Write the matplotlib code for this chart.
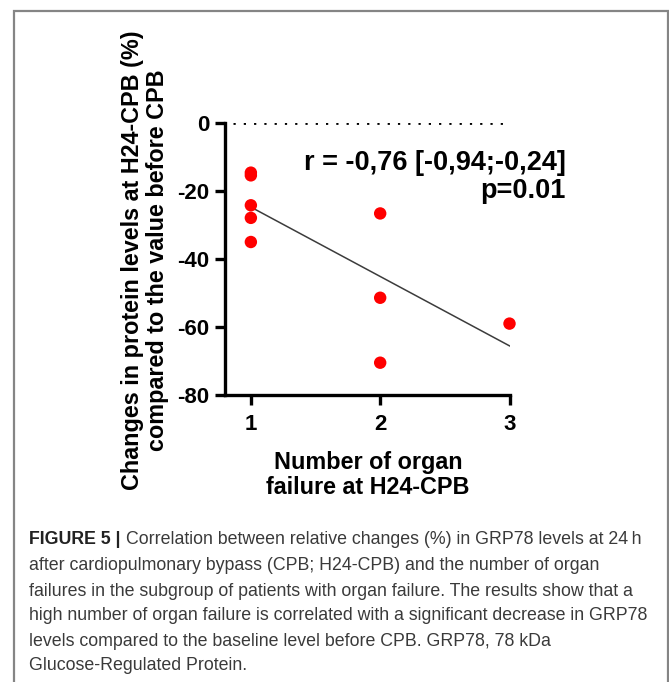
import numpy as np
import matplotlib
matplotlib.use("Agg")
import matplotlib.pyplot as plt
from matplotlib.patches import Rectangle

plt.rcParams['font.family'] = ['Liberation Sans', 'DejaVu Sans']
plt.rcParams['axes.unicode_minus'] = False

# Data
organ_failures = [1, 1, 1, 1, 1, 2, 2, 2, 3]
grp78_change = [-14.6, -15.4, -24.2, -27.9, -35.0, -26.6, -51.4, -70.5, -59.0]
x_ticks = [1, 2, 3]
y_ticks = [-80, -60, -40, -20, 0]

stats_text = "r = -0,76 [-0,94;-0,24]\np=0.01"
ylabel = "Changes in protein levels at H24-CPB (%)\ncompared to the value before CPB"
xlabel = "Number of organ\nfailure at H24-CPB"
caption_head = "FIGURE 5 |"
caption_lines = [
    "Correlation between relative changes (%) in GRP78 levels at 24\u2009h",
    "after cardiopulmonary bypass (CPB; H24-CPB) and the number of organ",
    "failures in the subgroup of patients with organ failure. The results show that a",
    "high number of organ failure is correlated with a significant decrease in GRP78",
    "levels compared to the baseline level before CPB. GRP78, 78 kDa",
    "Glucose-Regulated Protein.",
]

W, H = 669, 682
fig = plt.figure(figsize=(W / 100, H / 100), dpi=100)
ax = fig.add_axes([225 / W, 1 - 395 / H, 284.5 / W, 272 / H])

# regression line
slope, intercept = np.polyfit(organ_failures, grp78_change, 1)
fit_x = np.array([min(organ_failures), max(organ_failures)])
ax.plot(fit_x, slope * fit_x + intercept, color='#3c3c3c', lw=1.1, zorder=2)

ax.scatter(organ_failures, grp78_change, s=80, color='#ff0000', edgecolors='none',
           zorder=3, clip_on=False)

# dotted reference line at 0
ax.axhline(0, xmin=0.028, xmax=0.984, color='black', lw=2,
           linestyle=(0, (0.8, 2.9)), zorder=1)

ax.set_xlim(0.80, 3.0)
ax.set_ylim(-80, 0)
ax.set_xticks(x_ticks)
ax.set_yticks(y_ticks)
for s in ['top', 'right']:
    ax.spines[s].set_visible(False)
for s in ['left', 'bottom']:
    ax.spines[s].set_linewidth(2.4)
ax.tick_params(axis='both', width=2.4, length=7.5, labelsize=16)
ax.tick_params(axis='y', pad=3.5)
ax.tick_params(axis='x', pad=6.5)
for lab in ax.get_xticklabels() + ax.get_yticklabels():
    lab.set_fontweight('bold')

fig.text(566 / W, 1 - 177.5 / H, stats_text, ha='right', va='center',
         multialignment='right', fontsize=19.5, fontweight='bold', linespacing=1.1)

fig.text(145 / W, 1 - 260 / H, ylabel, rotation=90, ha='center', va='center',
         multialignment='center', fontsize=16.8, fontweight='bold', linespacing=1.15)
fig.text(368 / W, 1 - 475 / H, xlabel, ha='center', va='center',
         multialignment='center', fontsize=16.8, fontweight='bold', linespacing=1.15)

# caption frame
fig.add_artist(Rectangle((14 / W, -0.05), (668 - 14) / W, 1 - 11 / H + 0.05,
                         transform=fig.transFigure, fill=False,
                         edgecolor='#858585', lw=1.6))

cap_y = [540, 566, 591, 616, 641, 666]
head = fig.text(29 / W, 1 - cap_y[0] / H, caption_head, ha='left', va='center',
                fontsize=12.8, fontweight='bold', color='#222222')
fig.canvas.draw()
head_end = head.get_window_extent().x1
for i, line in enumerate(caption_lines):
    x0 = (head_end + 5) / W if i == 0 else 29 / W
    fig.text(x0, 1 - cap_y[i] / H, line, ha='left', va='center',
             fontsize=12.8, color='#3a3a3a')

fig.savefig("out.png", dpi=100)
